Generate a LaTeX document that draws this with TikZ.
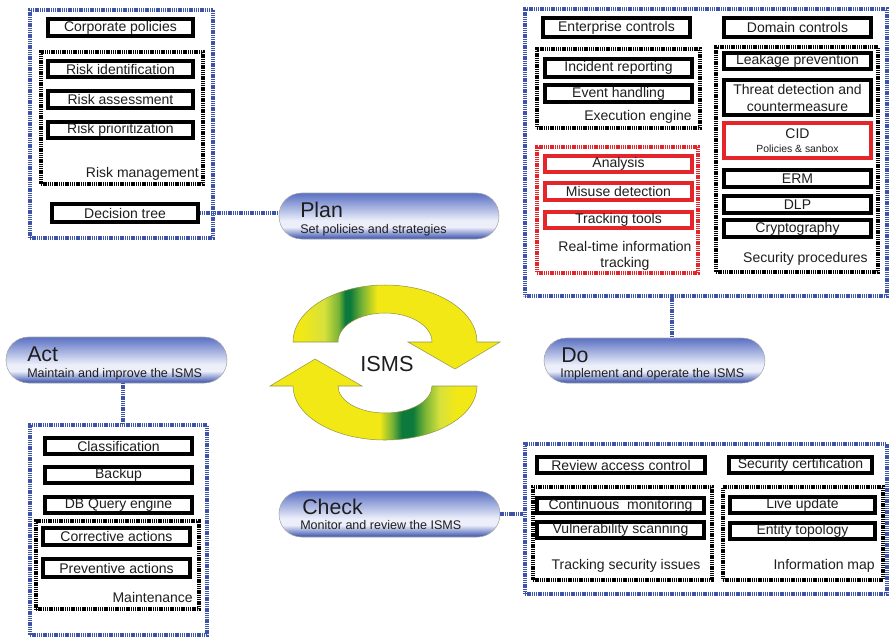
\documentclass[tikz,border=0pt]{standalone}
\usepackage{fontspec}
\setmainfont{Liberation Sans}
\usetikzlibrary{calc}
\definecolor{dotblue}{RGB}{62,84,168}
\definecolor{bred}{RGB}{228,38,42}
\definecolor{txt}{RGB}{30,30,30}
\definecolor{ygr}{RGB}{242,232,22}
\definecolor{pgr}{RGB}{215,225,60}
\definecolor{dgr}{RGB}{12,122,58}
\definecolor{lgr}{RGB}{120,180,55}
\definecolor{pilltop}{RGB}{90,112,195}
\definecolor{pillmid}{RGB}{236,239,250}
\definecolor{pillbot}{RGB}{55,80,172}
\definecolor{arrline}{RGB}{150,150,70}
\pgfdeclareverticalshading{pillshade}{100bp}{color(0bp)=(pillbot); color(25bp)=(pillbot); color(38bp)=(pillmid); color(45bp)=(pillmid); color(75bp)=(pilltop); color(100bp)=(pilltop)}
\pgfdeclarehorizontalshading{topshade}{100bp}{color(0bp)=(ygr); color(27bp)=(ygr); color(32.5bp)=(pgr); color(36bp)=(lgr); color(37.6bp)=(dgr); color(38.8bp)=(dgr); color(41.7bp)=(lgr); color(45.3bp)=(ygr); color(100bp)=(ygr)}
\pgfdeclarehorizontalshading{botshade}{100bp}{color(0bp)=(ygr); color(51.5bp)=(ygr); color(54.5bp)=(lgr); color(56.8bp)=(dgr); color(59.5bp)=(dgr); color(62.4bp)=(lgr); color(66bp)=(pgr); color(70bp)=(ygr); color(100bp)=(ygr)}
\newcommand{\mybx}[7][]{%
  \pgfmathsetmacro{\myBW}{(#5-#3)*0.75}%
  \pgfmathsetmacro{\myBH}{(#6-#4)*0.75}%
  \node[#1, minimum width=\myBW pt, minimum height=\myBH pt] (#2) at ({(#3+#5)/2},{(#4+#6)/2}) {#7};}
\tikzset{
  sbox/.style={draw=black, line width=2.4pt, fill=white, inner sep=0pt, font=\fontsize{10.5}{12.75}\selectfont, text=txt, align=center},
  rbox/.style={sbox, draw=bred},
  grp/.style={draw=black, line width=2.4pt, dash pattern=on 1.1pt off 0.55pt, inner sep=0pt},
  rgrp/.style={grp, draw=bred},
  bgrp/.style={grp, draw=dotblue},
  lbl/.style={font=\fontsize{10.5}{11.5}\selectfont, text=txt, inner sep=0pt, align=center},
  pill/.style={rectangle, rounded corners=17pt, shade, shading=pillshade, draw=gray!70, line width=0.4pt, inner sep=0pt},
  titleT/.style={font=\fontsize{16}{18}\selectfont, anchor=base west, inner sep=0pt, text=txt},
  subT/.style={font=\fontsize{9.4}{11}\selectfont, anchor=base west, inner sep=0pt, text=txt},
  conn/.style={draw=dotblue, line width=2.4pt, dash pattern=on 1.1pt off 0.55pt},
  arr/.style={draw=arrline, line width=0.4pt}
}
\begin{document}
\begin{tikzpicture}[x=0.75pt, y=-0.75pt]
\useasboundingbox (0,0) rectangle (889,637);

% ---------------- PLAN ----------------
\mybx[bgrp]{planbox}{30}{10}{213}{238}{}
\mybx[grp]{riskmgmt}{41}{52}{203}{184}{}
\mybx[sbox]{corp}{48}{19}{193}{36}{Corporate policies}
\mybx[sbox]{riskid}{48}{61}{193}{77}{Risk identification}
\mybx[sbox]{riskas}{48}{91}{193}{108}{Risk assessment}
\mybx[sbox]{riskpr}{48}{122}{193}{138}{Risk prioritization}
\node[lbl, anchor=east] (riskmgmtL) at (199,174) {Risk management};
\mybx[sbox]{dtree}{52}{204}{198}{222}{Decision tree}

% ---------------- DO ----------------
\mybx[bgrp]{dobox}{525}{9}{887}{296}{}
\mybx[grp]{exec}{537}{49}{700}{128}{}
\mybx[rgrp]{rtit}{537}{147}{698}{273}{}
\mybx[grp]{secproc}{716}{47}{878}{272}{}
\mybx[sbox]{enterprise}{543}{18}{690}{37}{Enterprise controls}
\mybx[sbox]{domain}{724}{18}{871}{37}{Domain controls}
\mybx[sbox]{incident}{545}{59}{692}{77}{Incident reporting}
\mybx[sbox]{event}{545}{85}{692}{102}{Event handling}
\node[lbl, anchor=east] (execL) at (692,117) {Execution engine};
\mybx[rbox]{analysis}{545}{156}{692}{172}{Analysis}
\mybx[rbox]{misuse}{545}{183}{692}{200}{Misuse detection}
\mybx[rbox]{tracking}{545}{212}{692}{228}{Tracking tools}
\node[lbl] (rtitL) at (625,256) {Real-time information\\tracking};
\mybx[sbox]{leakage}{724}{53}{871}{69}{Leakage prevention}
\mybx[sbox]{threat}{724}{80}{871}{115}{Threat detection and\\countermeasure}
\mybx[rbox]{cid}{724}{123}{871}{158}{CID\\[-2pt]{\fontsize{7.8}{9}\selectfont Policies \& sanbox}}
\mybx[sbox]{erm}{724}{170}{871}{187}{ERM}
\mybx[sbox]{dlp}{724}{196}{871}{213}{DLP}
\mybx[sbox]{crypto}{724}{220}{871}{237}{Cryptography}
\node[lbl, anchor=east] (secprocL) at (868,259) {Security procedures};

% ---------------- ACT ----------------
\mybx[bgrp]{actbox}{30}{425}{207}{635}{}
\mybx[grp]{maint}{36}{521}{199}{609}{}
\mybx[sbox]{classif}{45}{438}{192}{454}{Classification}
\mybx[sbox]{backup}{45}{467}{192}{483}{Backup}
\mybx[sbox]{dbq}{45}{497}{192}{513}{DB Query engine}
\mybx[sbox]{corrective}{43}{528}{190}{545}{Corrective actions}
\mybx[sbox]{preventive}{43}{559}{190}{577}{Preventive actions}
\node[lbl, anchor=east] (maintL) at (193,597) {Maintenance};

% ---------------- CHECK ----------------
\mybx[bgrp]{checkbox}{525}{444}{887}{594}{}
\mybx[grp]{tsi}{533}{487}{712}{580}{}
\mybx[grp]{infomap}{723}{487}{883}{580}{}
\mybx[sbox]{review}{537}{457}{705}{473}{Review access control}
\mybx[sbox]{seccert}{729}{457}{872}{473}{Security certification}
\mybx[sbox]{contmon}{537}{498}{704}{513}{Continuous~~monitoring}
\mybx[sbox]{vuln}{537}{522}{704}{538}{Vulnerability scanning}
\node[lbl] (tsiL) at (626,566) {Tracking security issues};
\mybx[sbox]{live}{730}{497}{875}{513}{Live update}
\mybx[sbox]{entity}{730}{523}{875}{539}{Entity topology}
\node[lbl, anchor=east] (infomapL) at (875,566) {Information map};

% ---------------- PILLS ----------------
\mybx[pill]{plan}{279}{193}{499}{239}{}
\node[titleT] (planT) at (300,217) {Plan};
\node[subT] (planS) at (300,233) {Set policies and strategies};

\mybx[pill]{do}{544}{338}{765}{383}{}
\node[titleT] (doT) at (561,362) {Do};
\node[subT] (doS) at (560,377) {Implement and operate the ISMS};

\mybx[pill]{act}{6}{337}{227}{383}{}
\node[titleT] (actT) at (27,361) {Act};
\node[subT] (actS) at (27,377) {Maintain and improve the ISMS};

\mybx[pill]{check}{279}{491}{500}{537}{}
\node[titleT] (checkT) at (302,514) {Check};
\node[subT] (checkS) at (300,529) {Monitor and review the ISMS};

% ---------------- CONNECTORS ----------------
\draw[conn] (dtree.east) -- (dtree.east -| plan.west);
\coordinate (doc) at (672,296);
\draw[conn] (doc) -- (doc |- do.north);
\coordinate (actc) at (123,383);
\draw[conn] (actc) -- (actc |- actbox.north);
\draw[conn] (check.east) -- (check.east -| checkbox.west);

% ---------------- ISMS CYCLE ----------------
\shadedraw[arr, shading=topshade] (293,342) arc[start angle=180, end angle=360, x radius=92, y radius=57]
  -- (500,342) -- (455,369) -- (408,342) -- (432,342)
  arc[start angle=360, end angle=180, x radius=47, y radius=29] -- cycle;
\shadedraw[arr, shading=botshade] (477,386) arc[start angle=0, end angle=180, x radius=92, y radius=54]
  -- (270,386) -- (315,359) -- (362,386) -- (338,386)
  arc[start angle=180, end angle=0, x radius=47, y radius=27] -- cycle;
\node[font=\fontsize{16.3}{19}\selectfont, text=txt, inner sep=0pt] (isms) at (387,364) {ISMS};
\end{tikzpicture}
\end{document}
